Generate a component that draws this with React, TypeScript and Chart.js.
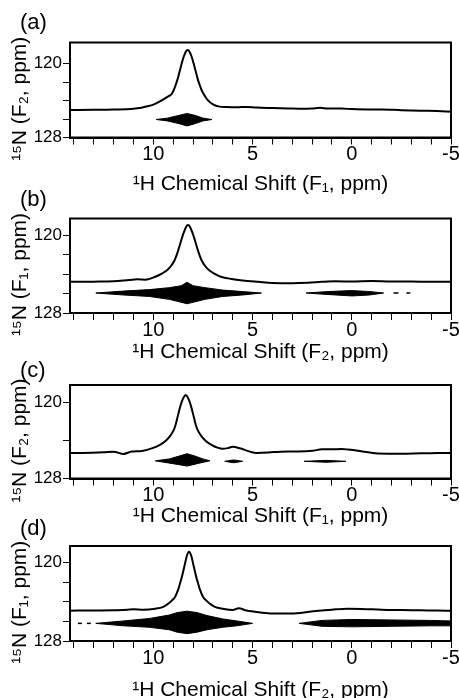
import React, { useEffect, useRef } from 'react';
import { Chart, registerables } from 'chart.js';

Chart.register(...registerables);
Chart.defaults.font.family = '"Liberation Sans", Arial, Helvetica, sans-serif';
Chart.defaults.color = '#000';

// ---------- text ----------
const panelLabels = ['(a)', '(b)', '(c)', '(d)'];
const xTitles = [
  '¹H Chemical Shift (F₁, ppm)',
  '¹H Chemical Shift (F₂, ppm)',
  '¹H Chemical Shift (F₁, ppm)',
  '¹H Chemical Shift (F₂, ppm)',
];
const yTitles = ['¹⁵N (F₂, ppm)', '¹⁵N (F₁, ppm)', '¹⁵N (F₂, ppm)', '¹⁵N (F₁, ppm)'];

// ---------- axes ----------
const xTickValues = [14, 13, 12, 11, 10, 9, 8, 7, 6, 5, 4, 3, 2, 1, 0, -1, -2, -3, -4, -5];
const xLabelledTicks = [10, 5, 0, -5];
const xMin = -5;
const xMax = 14.2;
const yTickValues = [120, 122, 124, 126, 128];
const yLabelledTicks = [120, 128];
const yAxisMin = [117.7, 118.3, 118.2, 118.3];
const yAxisMax = 128;

// ---------- 1D projections: [1H ppm, intensity %] ----------
const projA = [
  [14.2, 29], [13, 29.2], [12, 29.5], [11, 30.3], [10.6, 31.4], [10.3, 32.8], [10.0, 34.6], [9.67, 38],
  [9.27, 43], [9.07, 46], [8.97, 50], [8.87, 55.5], [8.77, 62], [8.67, 70], [8.57, 78], [8.47, 85],
  [8.37, 90], [8.27, 92], [8.17, 90], [8.07, 85], [7.97, 78], [7.87, 70], [7.77, 62], [7.67, 55.5],
  [7.57, 50], [7.47, 46], [7.27, 39.5], [6.97, 34.5], [6.67, 32.5], [6.3, 32], [5.8, 31.8], [5.3, 32.2],
  [4.8, 31.5], [4, 31], [3.2, 30.6], [2.5, 30.3], [2, 30.6], [1.6, 31.2], [1.2, 30.4], [0.5, 30.4],
  [0, 29.9], [-0.8, 29.5], [-1.5, 29.6], [-2.5, 28.8], [-3.5, 28.2], [-4.3, 27.8], [-5, 27.2],
];
const projB = [
  [14.2, 33], [13, 33.2], [12, 33.6], [11.2, 35], [10.8, 35.6], [10.4, 35.3], [9.9, 38.4], [9.55, 42],
  [9.3, 45.5], [9.1, 50], [8.95, 55], [8.85, 60], [8.75, 66], [8.65, 73], [8.55, 80], [8.45, 86],
  [8.35, 91], [8.25, 93], [8.15, 91], [8.05, 86], [7.95, 80], [7.85, 73], [7.75, 66], [7.65, 60],
  [7.55, 55], [7.4, 50], [7.2, 45.5], [6.95, 42], [6.6, 38.4], [6.05, 36], [5.5, 34.5], [4.7, 33],
  [4, 31.8], [3, 31.5], [2.2, 32], [1.5, 33], [0.8, 33.6], [0, 33.3], [-1, 33.8], [-2, 33.3],
  [-3, 33.4], [-4, 33], [-5, 33],
];
const projC = [
  [14.2, 27.4], [13.6, 27.4], [12.5, 28], [12, 28.7], [11.5, 26.2], [11.1, 28.8], [10.57, 29.5],
  [9.97, 33], [9.67, 36], [9.37, 40.5], [9.17, 45], [8.97, 52], [8.87, 58], [8.77, 66.5], [8.67, 75],
  [8.57, 82], [8.47, 87], [8.37, 89.3], [8.27, 87], [8.17, 82], [8.07, 75], [7.97, 66.5], [7.87, 58],
  [7.77, 52], [7.57, 45], [7.37, 40.5], [7.07, 36], [6.77, 33], [6.5, 31.8], [6.25, 32.5], [6.0, 34],
  [5.6, 32], [5.1, 28.5], [4.8, 27.4], [4.2, 27.8], [3.6, 28.7], [2.8, 28.9], [2.0, 29.6], [1.5, 31.2],
  [1.0, 31.2], [0.5, 31.5], [0.2, 31], [-0.4, 29.5], [-1.3, 26.8], [-2.5, 26.6], [-3.5, 27],
  [-4.3, 27.2], [-5, 27.4],
];
const projD = [
  [14.2, 31.9], [13, 32.2], [12, 32.3], [11.3, 33], [11, 33.3], [10.5, 32.8], [9.9, 34], [9.5, 36],
  [9.3, 38.5], [9.1, 42], [8.9, 46.7], [8.75, 54], [8.65, 61], [8.58, 66], [8.5, 73], [8.42, 80],
  [8.32, 89], [8.2, 94], [8.08, 89], [7.98, 80], [7.9, 73], [7.82, 66], [7.75, 61], [7.65, 54],
  [7.5, 46.7], [7.3, 42], [7.1, 38.5], [6.9, 36], [6.5, 34], [6.0, 32.6], [5.7, 34.4], [5.3, 32],
  [4.6, 30], [4.0, 29], [3.2, 29], [2.6, 29.6], [1.8, 31.5], [1.0, 33], [0.2, 34], [-0.5, 33.8],
  [-1.5, 33], [-2.5, 32.6], [-3.5, 32.3], [-4.3, 32], [-5, 31.9],
];

// ---------- 2D contours: polygons of [1H ppm, 15N ppm] ----------
// solid = filled outer contour envelopes, lines = black contour lines,
// white = light gaps between contour levels (dashed), gaps = solid light gaps
const solidA = [
  [[9.85, 126.05], [9.3, 125.9], [8.7, 125.6], [8.3, 125.4], [7.9, 125.6], [7.5, 125.9], [7.05, 126.05],
   [7.5, 126.2], [7.9, 126.5], [8.3, 126.75], [8.7, 126.5], [9.3, 126.2], [9.85, 126.05]],
];
const linesA = [];
const whiteA = [
  [[9.4, 126.05], [7.3, 126.05]],
  [[8.55, 125.7], [8.3, 125.55], [8.05, 125.7]],
];
const gapsA = [];

const solidB = [
  [[12.9, 125.95], [11.5, 125.75], [10.2, 125.6], [9.2, 125.4], [8.6, 125.2], [8.3, 124.85], [8.0, 125.2],
   [7.4, 125.4], [6.5, 125.65], [5.5, 125.8], [4.55, 125.95], [5.5, 126.15], [6.5, 126.3], [7.4, 126.6],
   [8.3, 127.05], [9.2, 126.6], [10.2, 126.3], [11.5, 126.15], [12.9, 125.95]],
  [[2.3, 125.95], [1.2, 125.8], [0, 125.7], [-0.9, 125.8], [-1.6, 125.95], [-0.9, 126.15], [0, 126.25],
   [1.2, 126.1], [2.3, 125.95]],
];
const linesB = [
  [[-2.1, 125.95], [-2.35, 125.95]],
  [[-2.75, 125.95], [-2.95, 125.95]],
];
const whiteB = [
  [[12.5, 125.95], [5.0, 125.95]],
  [[8.55, 125.3], [8.3, 125.05], [8.05, 125.3]],
  [[8.5, 126.75], [8.1, 126.75]],
  [[1.8, 125.95], [-1.2, 125.95]],
];
const gapsB = [];

const solidC = [
  [[9.9, 126.15], [9.2, 125.95], [8.7, 125.65], [8.3, 125.4], [7.9, 125.65], [7.5, 125.95], [7.15, 126.15],
   [7.6, 126.35], [8.0, 126.55], [8.3, 126.7], [8.7, 126.55], [9.3, 126.35], [9.9, 126.15]],
  [[6.4, 126.2], [5.95, 126.05], [5.5, 126.2], [5.95, 126.35], [6.4, 126.2]],
  [[2.4, 126.2], [1.3, 126.1], [0.3, 126.2], [1.3, 126.3], [2.4, 126.2]],
];
const linesC = [];
const whiteC = [
  [[9.4, 126.15], [7.4, 126.15]],
  [[8.5, 125.7], [8.3, 125.55], [8.1, 125.7]],
];
const gapsC = [];

const solidD = [
  [[12.9, 126.2], [11.5, 125.95], [10.2, 125.7], [9.2, 125.35], [8.8, 125.1], [8.3, 124.95], [7.8, 125.1],
   [7.3, 125.4], [6.5, 125.75], [5.8, 125.95], [5.0, 126.2], [5.8, 126.45], [6.5, 126.6], [7.3, 126.85],
   [7.8, 127.1], [8.3, 127.25], [8.8, 127.1], [9.2, 126.85], [10.2, 126.6], [11.5, 126.45], [12.9, 126.2]],
  [[-5, 125.95], [-4, 125.9], [-2, 125.85], [0, 125.8], [1.5, 125.9], [2.65, 126.2], [1.5, 126.5],
   [0, 126.55], [-2, 126.5], [-4, 126.45], [-5, 126.45]],
];
const linesD = [
  [[13.8, 126.2], [13.6, 126.2]],
  [[13.35, 126.2], [13.15, 126.2]],
];
const whiteD = [
  [[11.8, 126.2], [5.6, 126.2]],
  [[-4.8, 126.2], [1.9, 126.2]],
];
const gapsD = [
  [[12.3, 126.2], [10.5, 126.02], [9.3, 125.65], [8.3, 125.5], [7.3, 125.65], [6.0, 126.02], [5.4, 126.2],
   [6.0, 126.38], [7.3, 126.68], [8.3, 126.88], [9.3, 126.68], [10.5, 126.38], [12.3, 126.2]],
  [[8.75, 125.22], [8.3, 125.1], [7.85, 125.22]],
  [[8.75, 127.05], [8.3, 127.12], [7.85, 127.05]],
  [[-5, 126.05], [-3, 126.02], [0, 125.97], [2.1, 126.2], [0, 126.4], [-3, 126.35], [-5, 126.35]],
];

const projections = [projA, projB, projC, projD];
const solids = [solidA, solidB, solidC, solidD];
const lines = [linesA, linesB, linesC, linesD];
const whites = [whiteA, whiteB, whiteC, whiteD];
const gaps = [gapsA, gapsB, gapsC, gapsD];

// ---------- layout (pixels) ----------
const PAGE_W = 459;
const PAGE_H = 698;
const PANEL_GEOM = [
  { labelCenter: 23.5, chartTop: 42.5, chartBottom: 137.5, titleCenter: 184 },
  { labelCenter: 201, chartTop: 218.5, chartBottom: 313, titleCenter: 352 },
  { labelCenter: 371.5, chartTop: 385, chartBottom: 478.5, titleCenter: 516 },
  { labelCenter: 530, chartTop: 546, chartBottom: 641, titleCenter: 690 },
];
const PAD_LEFT = 20;
const PAD_RIGHT = 8;
const Y_AXIS_W = 50;
const LABEL_FONT = 22;
const TITLE_FONT = 21;
const Y_TITLE_SHIFT = '   ';

const framePlugin = {
  id: 'frame',
  afterDatasetsDraw(chart: any) {
    const { ctx, chartArea } = chart;
    const { left, top, right, bottom } = chartArea;
    ctx.save();
    ctx.strokeStyle = '#000';
    ctx.lineWidth = 2;
    ctx.strokeRect(left, top, right - left, bottom - top);
    ctx.restore();
  },
};

const toPts = (arr: number[][]) => arr.map(([x, y]) => ({ x, y }));

function Panel({ idx }: { idx: number }) {
  const ref = useRef<HTMLCanvasElement>(null);
  const g = PANEL_GEOM[idx];
  const labelLH = LABEL_FONT * 1.2;
  const titleLH = TITLE_FONT * 1.2;
  const canvasTop = Math.floor(g.labelCenter - 8 - labelLH / 2);
  const canvasBottom = Math.ceil(g.titleCenter + titleLH / 2 + 2);
  const canvasH = canvasBottom - canvasTop;
  const titlePadBottom = g.chartTop - canvasTop - 8 - labelLH;
  const xScaleH = canvasBottom - g.chartBottom;

  useEffect(() => {
    if (!ref.current) return;
    const datasets: any[] = [];
    solids[idx].forEach((poly) =>
      datasets.push({
        data: toPts(poly), yAxisID: 'y', borderColor: '#000', backgroundColor: '#000',
        borderWidth: 1, pointRadius: 0, fill: 'shape', tension: 0,
      })
    );
    gaps[idx].forEach((poly) =>
      datasets.push({
        data: toPts(poly), yAxisID: 'y', borderColor: '#fff', borderWidth: 0.8,
        pointRadius: 0, fill: false, tension: 0,
      })
    );
    lines[idx].forEach((poly) =>
      datasets.push({
        data: toPts(poly), yAxisID: 'y', borderColor: '#000', borderWidth: 1.5,
        pointRadius: 0, fill: false, tension: 0,
      })
    );
    whites[idx].forEach((poly) =>
      datasets.push({
        data: toPts(poly), yAxisID: 'y', borderColor: '#fff', borderWidth: 1,
        borderDash: [3, 2], pointRadius: 0, fill: false, tension: 0,
      })
    );
    datasets.push({
      data: toPts(projections[idx]), yAxisID: 'yP', borderColor: '#000', borderWidth: 2,
      pointRadius: 0, fill: false, cubicInterpolationMode: 'monotone',
    });

    const chart = new Chart(ref.current, {
      type: 'line',
      data: { datasets },
      options: {
        animation: false,
        responsive: false,
        maintainAspectRatio: false,
        events: [],
        layout: { padding: { left: PAD_LEFT, right: PAD_RIGHT, top: 0, bottom: 0 } },
        plugins: {
          legend: { display: false },
          tooltip: { enabled: false },
          title: {
            display: true, text: panelLabels[idx], align: 'start', color: '#000',
            font: { size: LABEL_FONT, weight: 'normal' },
            padding: { top: 8, bottom: titlePadBottom },
          },
        },
        scales: {
          x: {
            type: 'linear', min: xMin, max: xMax, reverse: true,
            afterBuildTicks: (s: any) => { s.ticks = xTickValues.map((v) => ({ value: v })); },
            afterFit: (s: any) => { s.height = xScaleH; s.paddingLeft = 0; s.paddingRight = 0; },
            ticks: {
              autoSkip: false, maxRotation: 0, color: '#000', padding: 0,
              font: { size: 20, lineHeight: 1 },
              callback: (v: any) => (xLabelledTicks.includes(Number(v)) ? String(v) : ''),
            },
            grid: { drawOnChartArea: false, drawTicks: true, tickLength: 7, tickColor: '#000', tickWidth: 1 },
            border: { display: true, color: '#000', width: 2 },
            title: {
              display: true, text: xTitles[idx], color: '#000',
              font: { size: TITLE_FONT }, padding: { top: 0, bottom: 2 },
            },
          },
          y: {
            type: 'linear', min: yAxisMin[idx], max: yAxisMax, reverse: true,
            afterBuildTicks: (s: any) => { s.ticks = yTickValues.map((v) => ({ value: v })); },
            afterFit: (s: any) => { s.width = Y_AXIS_W; s.paddingTop = 0; s.paddingBottom = 0; },
            ticks: {
              color: '#000', padding: 1, font: { size: 17 },
              callback: (v: any) => (yLabelledTicks.includes(Number(v)) ? String(v) : ''),
            },
            grid: { drawOnChartArea: false, drawTicks: true, tickLength: 7, tickColor: '#000', tickWidth: 1 },
            border: { display: true, color: '#000', width: 2 },
            title: {
              display: true, text: yTitles[idx] + Y_TITLE_SHIFT, color: '#000',
              font: { size: TITLE_FONT }, padding: { top: -12, bottom: 0 },
            },
          },
          yP: { type: 'linear', display: false, min: 0, max: 100 },
        },
      } as any,
      plugins: [framePlugin],
    });
    return () => chart.destroy();
  }, [idx]);

  return (
    <canvas
      ref={ref}
      width={PAGE_W}
      height={canvasH}
      style={{ position: 'absolute', left: 0, top: canvasTop, width: PAGE_W, height: canvasH }}
    />
  );
}

export default function App() {
  return (
    <div
      style={{
        position: 'absolute', left: 0, top: 0, width: PAGE_W, height: PAGE_H,
        overflow: 'hidden', background: '#fff',
      }}
    >
      {panelLabels.map((_, i) => (
        <Panel key={i} idx={i} />
      ))}
    </div>
  );
}
